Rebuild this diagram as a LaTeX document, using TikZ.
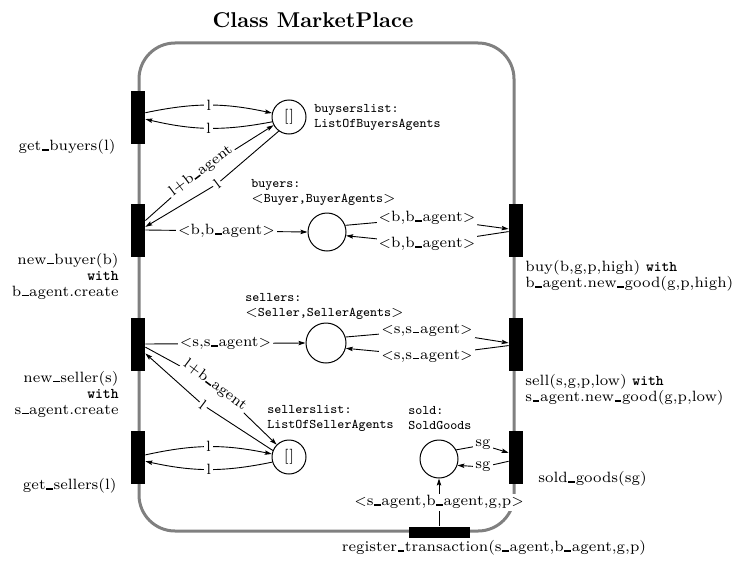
\documentclass[tikz,border=0pt]{standalone}
\usetikzlibrary{arrows.meta}
% underscore drawn as a short bar on the baseline
\newcommand{\usbar}{\kern.04em\rule{.45em}{.1em}\kern.04em}
\newcommand{\kw}[1]{{\ttfamily\bfseries #1}}
\begin{document}
\begin{tikzpicture}[x=0.5pt,y=-0.5pt,
  every node/.style={font=\fontsize{7.45}{8}\selectfont, inner sep=0pt},
  trans/.style={fill=black, draw=none, minimum width=7pt, minimum height=26.5pt},
  htrans/.style={fill=black, draw=none, minimum width=30.5pt, minimum height=5.5pt},
  place/.style={circle, draw, line width=0.5pt, minimum size=#1},
  place/.default=19pt,
  arc/.style={line width=0.45pt, -{Stealth[length=3.5pt,width=2.2pt,inset=0.6pt]}},
  lab/.style={fill=white, inner sep=1pt},
  decl/.style={font=\fontsize{6.6}{7.5}\selectfont\ttfamily, align=left, anchor=west},
  tleft/.style={align=right, anchor=east},
  tright/.style={align=left, anchor=west},
  frame/.style={draw=gray, line width=1.5pt, rounded corners=18pt}]

\useasboundingbox (0,0) rectangle (742,567);

% title and class frame
\node (title) at (313,20) {\fontsize{10.7}{13}\selectfont\bfseries Class MarketPlace};
\draw[frame] (139,43) rectangle (514,531);

% transitions
\node[trans] (gb) at (138,117) {};
\node[trans] (nb) at (138,230) {};
\node[trans] (ns) at (138,344) {};
\node[trans] (gs) at (138,457) {};
\node[trans] (buy) at (516,230) {};
\node[trans] (sell) at (516,344) {};
\node[trans] (sg) at (516,457) {};
\node[htrans] (reg) at (439,532) {};

% places
\node[place=17pt] (bl) at (289,117) {[\kern.4pt]};
\node[place=19pt] (byr) at (327,232) {};
\node[place=20pt] (sel) at (326,343) {};
\node[place=17pt] (sl) at (289,457) {[\kern.4pt]};
\node[place=19pt] (sold) at (439,459) {};

% place declarations
\node[decl] (blD) at (314,117) {buyserslist:\\ListOfBuyersAgents};
\node[decl] (byrD) at (251,192) {buyers:\\\rmfamily$<$\ttfamily Buyer,BuyerAgents\rmfamily$>$};
\node[decl] (selD) at (245,306) {sellers:\\\rmfamily$<$\ttfamily Seller,SellerAgents\rmfamily$>$};
\node[decl] (slD) at (267,418) {sellerslist:\\ListOfSellerAgents};
\node[decl] (soldD) at (408,418) {sold:\\SoldGoods};

% transition inscriptions
\node[tleft] (gbT) at (116,147) {get\usbar buyers(l)};
\node[tleft] (nbT) at (119,276) {new\usbar buyer(b)\\\kw{with}\\b\usbar agent.create};
\node[tleft] (nsT) at (119,394) {new\usbar seller(s)\\\kw{with}\\s\usbar agent.create};
\node[tleft] (gsT) at (117,486) {get\usbar sellers(l)};
\node[tright] (buyT) at (525,276) {buy(b,g,p,high) \kw{with}\\b\usbar agent.new\usbar good(g,p,high)};
\node[tright] (sellT) at (525,390) {sell(s,g,p,low) \kw{with}\\s\usbar agent.new\usbar good(g,p,low)};
\node[tright] (sgT) at (538,479) {sold\usbar goods(sg)};
\node (regT) at (494,548) {register\usbar transaction(s\usbar agent,b\usbar agent,g,p)};

% bend points of the arcs
\coordinate (vA) at (201,171);
\coordinate (vB) at (217,184);
\coordinate (vC) at (215,385);
\coordinate (vD) at (203,405);
\coordinate (vE) at (427,218);
\coordinate (vF) at (427,244);
\coordinate (vG) at (427,330);
\coordinate (vH) at (427,356);
\coordinate (vI) at (483,445);
\coordinate (vJ) at (483,467);

% buyers list
\draw[arc] (gb.30) to[bend left=12] node[lab]{l} (bl.167);
\draw[arc] (bl.196) to[bend left=12] node[lab]{l} (gb.344);
\draw[arc] (nb.52) -- (vA) node[lab,rotate=37]{l+b\usbar agent} -- (bl.208);
\draw[arc] (bl.234) -- (vB) node[lab,rotate=37]{l} -- (nb.23);

% buyers
\draw[arc] (nb.east) -- node[lab]{$<$b,b\usbar agent$>$} (byr.west);
\draw[arc] (byr.20) -- (vE) node[lab]{$<$b,b\usbar agent$>$} -- (buy.172);
\draw[arc] (buy.192) -- (vF) node[lab]{$<$b,b\usbar agent$>$} -- (byr.349);

% sellers
\draw[arc] (ns.east) -- node[lab]{$<$s,s\usbar agent$>$} (sel.west);
\draw[arc] (sel.17) -- (vG) node[lab]{$<$s,s\usbar agent$>$} -- (sell.172);
\draw[arc] (sell.192) -- (vH) node[lab]{$<$s,s\usbar agent$>$} -- (sel.345);

% sellers list
\draw[arc] (ns.337) -- (vC) node[lab,rotate=-37]{l+b\usbar agent} -- (sl.135);
\draw[arc] (sl.158) -- (vD) node[lab,rotate=-37]{l} -- (ns.308);
\draw[arc] (gs.16) to[bend left=12] node[lab]{l} (sl.170);
\draw[arc] (sl.197) to[bend left=12] node[lab]{l} (gs.330);

% sold goods
\draw[arc] (sold.28) -- (vI) node[lab]{sg} -- (sg.150);
\draw[arc] (sg.210) -- (vJ) node[lab]{sg} -- (sold.341);
\draw[arc] (reg.north) -- node[lab]{$<$s\usbar agent,b\usbar agent,g,p$>$} (sold.south);

\end{tikzpicture}
\end{document}
